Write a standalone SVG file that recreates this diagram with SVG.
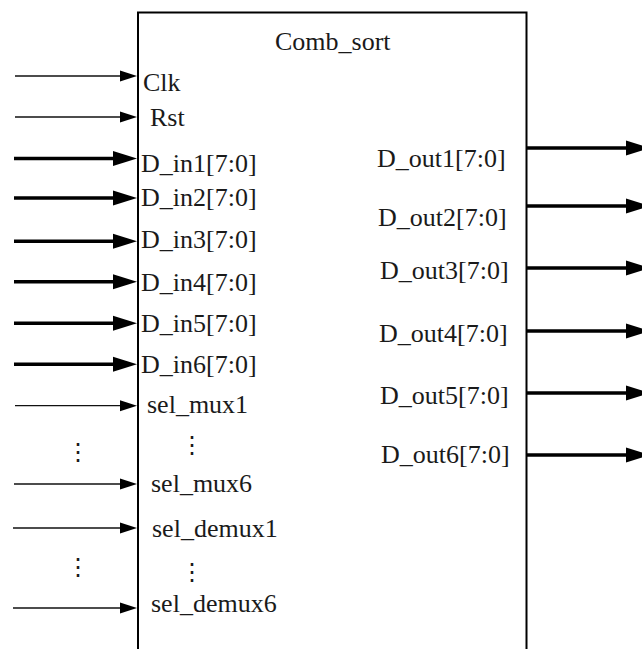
<svg xmlns="http://www.w3.org/2000/svg" width="642" height="649" viewBox="0 0 642 649">
<style>
.thin{stroke:#111;stroke-width:1.3;fill:none}
.thick{stroke:#000;stroke-width:3.6;fill:none}
text.lbl{font-family:'Liberation Serif',serif !important;font-size:26px}
text.dt{font-family:'DejaVu Serif',serif !important;font-size:24px}
</style>
<defs>
<marker id="ahThin" markerUnits="userSpaceOnUse" markerWidth="18" markerHeight="12" viewBox="0 -6 18 12" refX="0" refY="0" orient="auto">
<path d="M0,-5.5 L17,0 L0,5.5 Z" fill="#000"/>
</marker>
<marker id="ahThick" markerUnits="userSpaceOnUse" markerWidth="25" markerHeight="16" viewBox="0 -8 25 16" refX="0" refY="0" orient="auto">
<path d="M0,-7.5 L24,0 L0,7.5 Z" fill="#000"/>
</marker>
</defs>
<rect width="642" height="649" fill="#fff"/>
<g id="comb_sort" fill="#1a1a1a">
<path d="M138,660 V12.5 H526.5 V660" fill="none" stroke="#000" stroke-width="2"/>
<text class="lbl" style="font-family:'Liberation Serif',serif" x="275" y="50">Comb_sort</text>
<text class="lbl" style="font-family:'Liberation Serif',serif" x="143" y="91">Clk</text>
<text class="lbl" style="font-family:'Liberation Serif',serif" x="150" y="126">Rst</text>
<text class="lbl" style="font-family:'Liberation Serif',serif" x="141" y="172">D_in1[7:0]</text>
<text class="lbl" style="font-family:'Liberation Serif',serif" x="141" y="206">D_in2[7:0]</text>
<text class="lbl" style="font-family:'Liberation Serif',serif" x="141" y="248">D_in3[7:0]</text>
<text class="lbl" style="font-family:'Liberation Serif',serif" x="141" y="291">D_in4[7:0]</text>
<text class="lbl" style="font-family:'Liberation Serif',serif" x="141" y="332">D_in5[7:0]</text>
<text class="lbl" style="font-family:'Liberation Serif',serif" x="141" y="373">D_in6[7:0]</text>
<text class="lbl" style="font-family:'Liberation Serif',serif" x="147" y="413">sel_mux1</text>
<text class="dt" style="font-family:'DejaVu Serif',serif" x="180" y="453">⋮</text>
<text class="lbl" style="font-family:'Liberation Serif',serif" x="151" y="492">sel_mux6</text>
<text class="lbl" style="font-family:'Liberation Serif',serif" x="152" y="537">sel_demux1</text>
<text class="dt" style="font-family:'DejaVu Serif',serif" x="180" y="580">⋮</text>
<text class="lbl" style="font-family:'Liberation Serif',serif" x="151" y="612">sel_demux6</text>
<text class="lbl" style="font-family:'Liberation Serif',serif" x="377" y="167">D_out1[7:0]</text>
<text class="lbl" style="font-family:'Liberation Serif',serif" x="378" y="226">D_out2[7:0]</text>
<text class="lbl" style="font-family:'Liberation Serif',serif" x="380" y="279">D_out3[7:0]</text>
<text class="lbl" style="font-family:'Liberation Serif',serif" x="379" y="342">D_out4[7:0]</text>
<text class="lbl" style="font-family:'Liberation Serif',serif" x="380" y="404">D_out5[7:0]</text>
<text class="lbl" style="font-family:'Liberation Serif',serif" x="381" y="463">D_out6[7:0]</text>
</g>
<g id="left_dots" fill="#1a1a1a">
<text class="dt" style="font-family:'DejaVu Serif',serif" x="66" y="460">⋮</text>
<text class="dt" style="font-family:'DejaVu Serif',serif" x="66" y="575">⋮</text>
</g>
<g id="connectors">
<line class="thin" x1="15" y1="76" x2="120" y2="76" marker-end="url(#ahThin)"/>
<line class="thin" x1="15" y1="117" x2="120" y2="117" marker-end="url(#ahThin)"/>
<line class="thick" x1="14" y1="158.5" x2="113" y2="158.5" marker-end="url(#ahThick)"/>
<line class="thick" x1="14" y1="198" x2="113" y2="198" marker-end="url(#ahThick)"/>
<line class="thick" x1="14" y1="241.3" x2="113" y2="241.3" marker-end="url(#ahThick)"/>
<line class="thick" x1="14" y1="281.7" x2="113" y2="281.7" marker-end="url(#ahThick)"/>
<line class="thick" x1="14" y1="323.3" x2="113" y2="323.3" marker-end="url(#ahThick)"/>
<line class="thick" x1="14" y1="364.3" x2="113" y2="364.3" marker-end="url(#ahThick)"/>
<line class="thin" x1="15" y1="405.7" x2="120" y2="405.7" marker-end="url(#ahThin)"/>
<line class="thin" x1="14" y1="484" x2="120" y2="484" marker-end="url(#ahThin)"/>
<line class="thin" x1="13" y1="528" x2="120" y2="528" marker-end="url(#ahThin)"/>
<line class="thin" x1="13" y1="608" x2="120" y2="608" marker-end="url(#ahThin)"/>
<line class="thick" x1="527" y1="148" x2="626" y2="148" marker-end="url(#ahThick)"/>
<line class="thick" x1="527" y1="206" x2="626" y2="206" marker-end="url(#ahThick)"/>
<line class="thick" x1="527" y1="268" x2="626" y2="268" marker-end="url(#ahThick)"/>
<line class="thick" x1="527" y1="331" x2="626" y2="331" marker-end="url(#ahThick)"/>
<line class="thick" x1="527" y1="393" x2="626" y2="393" marker-end="url(#ahThick)"/>
<line class="thick" x1="527" y1="455" x2="626" y2="455" marker-end="url(#ahThick)"/>
</g>
</svg>
